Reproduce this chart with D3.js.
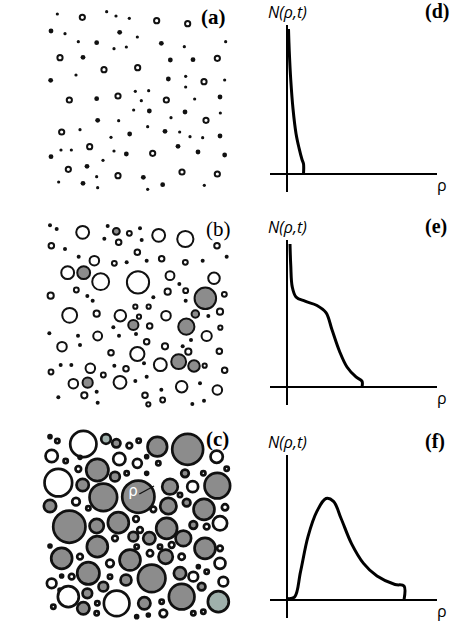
<!DOCTYPE html>
<html>
<head>
<meta charset="utf-8">
<script src="https://d3js.org/d3.v7.min.js"></script>
<style>body{margin:0;background:#fff}</style>
</head>
<body>
<svg id="fig" width="457" height="621"></svg>
<script>
const dotsA = [
[82,42,"s"],[157,52,"o"],[230,35,"s"],[258,48,"s"],[298,55,"s"],[380,62,"o"],[473,71,"o"],
[63,93,"m"],[105,101,"s"],[269,97,"m"],[322,111,"s"],
[145,125,"s"],[200,128,"m"],[252,146,"s"],[289,141,"s"],[394,130,"m"],[463,140,"s"],[587,125,"s"],
[90,173,"o"],[159,172,"m"],[421,180,"m"],[489,179,"m"],[562,175,"o"],[222,209,"o"],[323,203,"o"],
[62,241,"m"],[138,225,"s"],[415,237,"m"],[467,229,"s"],[522,245,"o"],[584,240,"s"],[467,261,"s"],
[118,300,"o"],[200,296,"m"],[264,288,"o"],[316,274,"s"],[356,272,"s"],[334,302,"s"],[409,300,"o"],[494,297,"s"],[570,291,"m"],
[311,330,"s"],[358,333,"m"],[465,336,"m"],[571,339,"s"],
[203,361,"m"],[266,362,"s"],[423,353,"s"],[528,361,"o"],
[95,396,"o"],[150,389,"s"],[353,380,"s"],[299,402,"m"],[405,394,"m"],[449,396,"s"],[243,412,"s"],[480,410,"s"],[518,413,"s"],[570,408,"m"],
[179,440,"o"],[93,450,"s"],[124,450,"s"],[252,453,"s"],[289,462,"m"],[368,460,"o"],[444,439,"m"],[504,456,"m"],[584,465,"m"],[63,470,"m"],
[219,481,"s"],[115,508,"o"],[171,499,"m"],[264,527,"o"],[200,530,"s"],[340,532,"m"],[456,516,"o"],[562,522,"o"],
[86,546,"s"],[159,550,"m"],[203,563,"s"],[353,568,"s"],[398,554,"m"],[523,556,"s"]
];
// panel (b): [x, y, r, fill]  d=black dot, w=open, g=grey
const circlesB = [
[150,46,6,"d"],[170,57,6,"d"],[323,48,6,"d"],[420,55,6,"d"],[195,117,6,"d"],[313,86,6,"d"],[425,90,6,"d"],[236,140,6,"d"],[440,152,6,"d"],[380,157,6,"d"],[608,152,6,"d"],[680,140,6,"d"],[538,222,6,"d"],[262,258,6,"d"],[278,272,6,"d"],[460,262,6,"d"],[557,272,6,"d"],[148,370,6,"d"],[234,377,6,"d"],[240,405,6,"d"],[340,352,6,"d"],[357,377,6,"d"],[408,372,6,"d"],[573,390,6,"d"],[625,318,6,"d"],[548,409,6,"d"],[182,465,6,"d"],[214,465,6,"d"],[343,467,6,"d"],[432,460,6,"d"],[406,513,6,"d"],[440,500,6,"d"],[600,520,6,"d"],[290,545,6,"d"],[175,562,6,"d"],[484,539,6,"d"],[577,582,6,"d"],[612,572,6,"d"],[293,578,6,"d"],
[154,107,11,"w"],[388,70,10,"w"],[356,97,11,"w"],[412,127,11,"w"],[485,146,11,"w"],[556,157,10,"w"],[651,107,11,"w"],[343,160,10,"w"],[229,240,10,"w"],[152,257,12,"w"],[503,245,12,"w"],[557,242,10,"w"],[673,253,10,"w"],[406,290,9,"w"],[446,290,9,"w"],[290,311,12,"w"],[417,320,9,"w"],[660,305,12,"w"],[449,348,11,"w"],[661,353,9,"w"],[293,378,16,"w"],[440,395,11,"w"],[495,409,12,"w"],[565,425,12,"w"],[658,424,11,"w"],[333,428,11,"w"],[614,467,9,"w"],[674,481,11,"w"],[153,486,10,"w"],[310,495,10,"w"],[378,476,11,"w"],[253,556,12,"w"],[435,556,11,"w"],[445,583,9,"w"],[488,570,10,"w"],
[248,67,22,"w"],[476,76,22,"w"],[556,87,27,"w"],[283,152,17,"w"],[203,188,22,"w"],[302,215,28,"w"],[414,217,36,"w"],[510,197,16,"w"],[642,205,20,"w"],[209,316,25,"w"],[361,317,20,"w"],[498,317,17,"w"],[620,378,18,"w"],[186,410,17,"w"],[412,432,24,"w"],[481,464,22,"w"],[271,475,17,"w"],[220,521,17,"w"],[360,517,22,"w"],[545,530,20,"w"],[652,540,17,"w"],
[349,64,13,"g"],[251,188,22,"g"],[616,265,35,"g"],[586,312,14,"g"],[559,350,27,"g"],[400,345,18,"g"],[536,455,25,"g"],[582,468,20,"g"],[263,518,18,"g"]
];
// panel (c): [x, y, r, fill]  w=open, g=grey, t=pale teal
const circlesC = [
[150,50,8,"w"],[172,63,10,"w"],[250,72,43,"w"],[318,57,18,"t"],[349,70,16,"g"],[388,77,12,"w"],[416,62,10,"w"],[472,80,33,"g"],[563,88,50,"g"],
[155,108,22,"w"],[197,123,10,"w"],[240,112,8,"w"],[292,150,37,"g"],[358,117,22,"w"],[412,130,17,"w"],[440,110,8,"w"],[475,130,10,"w"],[650,110,22,"w"],[680,146,10,"w"],
[175,188,45,"w"],[235,147,12,"w"],[248,195,22,"g"],[345,170,18,"g"],[380,160,10,"w"],[310,232,45,"g"],[415,230,52,"g"],[440,160,8,"w"],[510,200,27,"g"],[555,160,15,"g"],[578,200,20,"w"],[610,160,10,"w"],[652,197,42,"g"],
[150,258,22,"g"],[228,245,15,"w"],[265,265,10,"w"],[208,320,52,"g"],[290,318,25,"g"],[355,308,35,"g"],[408,297,12,"w"],[420,330,12,"w"],[460,268,12,"w"],[505,258,28,"g"],[540,225,10,"w"],[560,248,15,"g"],[612,268,35,"g"],[675,262,13,"w"],[500,325,35,"g"],[580,315,15,"g"],[620,320,12,"w"],[660,310,25,"w"],
[150,378,8,"w"],[185,415,35,"g"],[240,410,12,"w"],[292,380,35,"g"],[345,355,12,"w"],[400,350,18,"g"],[448,355,22,"g"],[410,380,10,"w"],[480,380,10,"w"],[550,355,27,"g"],[515,375,12,"w"],[615,385,35,"g"],[660,385,12,"w"],
[390,420,35,"g"],[450,400,13,"w"],[497,410,25,"g"],[545,410,13,"w"],[595,440,8,"w"],[660,430,20,"w"],[330,430,15,"w"],[265,460,37,"g"],[215,470,12,"w"],[185,468,8,"w"],
[155,490,18,"w"],[180,510,8,"w"],[310,500,18,"g"],[330,470,10,"w"],[378,480,20,"g"],[455,475,45,"g"],[540,460,22,"g"],[580,470,18,"w"],[620,455,10,"w"],[670,485,18,"w"],
[205,530,35,"w"],[262,520,18,"g"],[350,550,42,"w"],[433,550,22,"g"],[485,545,10,"w"],[545,530,42,"g"],[605,500,15,"g"],[655,545,35,"t"],[610,575,10,"w"],[580,580,10,"w"],
[250,565,22,"g"],[292,550,10,"w"],[290,580,10,"w"],[160,560,10,"w"],[445,585,8,"w"],[490,580,15,"w"],[410,590,8,"w"]
];
// distributions N(rho,t): [rho, N] in 0..100 units
const curveD = [[1,100],[1.5,85],[2.5,65],[4,45],[6,28],[8,18],[10,10],[11,7],[11,0]];
const curveE = [[2,100],[2.5,85],[3.5,70],[6,63],[12,60],[20,57],[26,52],[30,40],[35,25],[40,14],[46,7],[50,4],[50,0]];
const curveF = [[0,1],[5,2],[9,20],[14,45],[20,63],[26,72],[31,70],[36,58],[43,40],[51,26],[60,17],[72,11],[78,10],[78,0]];

const svg = d3.select("#fig");
const fillOf = {w:"#fff", g:"#8c8c8c", t:"#9fb0ac", d:"#111"};

// (a)
const xa = d3.scaleLinear().domain([0,630]).range([30,240]);
const ya = d3.scaleLinear().domain([0,600]).range([0,200]);
const ra = {s:1.6, m:2.4};
svg.append("g").selectAll("circle").data(dotsA).join("circle")
  .attr("cx", d => xa(d[0])).attr("cy", d => ya(d[1]))
  .attr("r", d => d[2] === "o" ? 2.6 : ra[d[2]])
  .attr("fill", d => d[2] === "o" ? "#fff" : "#111")
  .attr("stroke", "#111").attr("stroke-width", d => d[2] === "o" ? 2 : 0);

// (b)
const xb = d3.scaleLinear().domain([0,720]).range([0,240]);
const yb = d3.scaleLinear().domain([0,630]).range([210,420]);
const rb = d3.scaleLinear().domain([0,720]).range([0,240]);
svg.append("g").selectAll("circle").data(circlesB).join("circle")
  .attr("cx", d => xb(d[0])).attr("cy", d => yb(d[1]))
  .attr("r", d => d[3] === "d" ? rb(d[2]) : rb(d[2]) - 0.9)
  .attr("fill", d => fillOf[d[3]])
  .attr("stroke", "#111").attr("stroke-width", d => d[3] === "d" ? 0 : 2);

// (c)
const xc = d3.scaleLinear().domain([0,720]).range([0,240]);
const yc = d3.scaleLinear().domain([0,603]).range([420,621]);
svg.append("g").selectAll("circle").data(circlesC).join("circle")
  .attr("cx", d => xc(d[0])).attr("cy", d => yc(d[1]))
  .attr("r", d => rb(d[2]) - 1.2)
  .attr("fill", d => fillOf[d[3]])
  .attr("stroke", "#111").attr("stroke-width", 2.7);
svg.append("line").attr("x1", xc(418)).attr("y1", yc(222)).attr("x2", xc(462)).attr("y2", yc(198))
  .attr("stroke", "#111").attr("stroke-width", 1.3);
svg.append("text").attr("x", xc(385)).attr("y", yc(228)).text("ρ")
  .attr("fill", "#fff").attr("font-family", "DejaVu Sans").attr("font-size", 15);

// letters
const serif = "Liberation Serif";
[["(a)",201,24],["(b)",206,236],["(c)",206,446]].forEach(l => {
  svg.append("text").attr("x", l[1]).attr("y", l[2]).text(l[0])
    .attr("font-family", serif).attr("font-size", 21).attr("font-weight", l[0] === "(b)" ? "normal" : "bold");
});

// distribution plots
const plots = [
  {c: curveD, top: 25, base: 174, lab: "(d)"},
  {c: curveE, top: 240, base: 387, lab: "(e)"},
  {c: curveF, top: 455, base: 600, lab: "(f)"}
];
plots.forEach(p => {
  const g = svg.append("g");
  const x = d3.scaleLinear().domain([0,100]).range([287, 437]);
  const y = d3.scaleLinear().domain([0,100]).range([p.base, p.top + 4]);
  g.append("line").attr("x1", 287).attr("x2", 287).attr("y1", p.top).attr("y2", p.base + 18)
    .attr("stroke", "#000").attr("stroke-width", 2);
  g.append("line").attr("x1", 270).attr("x2", 437).attr("y1", p.base).attr("y2", p.base)
    .attr("stroke", "#000").attr("stroke-width", 2);
  g.append("path").datum(p.c)
    .attr("d", d3.line().x(d => x(d[0])).y(d => y(d[1])).curve(d3.curveCatmullRom.alpha(0.5)))
    .attr("fill", "none").attr("stroke", "#000").attr("stroke-width", 3);
  g.append("text").attr("x", 268).attr("y", p.top - 7).text("N(ρ,t)")
    .attr("font-family", "Open Sans").attr("font-style", "italic").attr("font-size", 16);
  g.append("text").attr("x", 437).attr("y", p.base + 17).text("ρ")
    .attr("font-family", "Open Sans").attr("font-size", 16);
  g.append("text").attr("x", 425).attr("y", p.top - 7).text(p.lab)
    .attr("font-family", serif).attr("font-weight", "bold").attr("font-size", 20);
});
</script>
</body>
</html>
